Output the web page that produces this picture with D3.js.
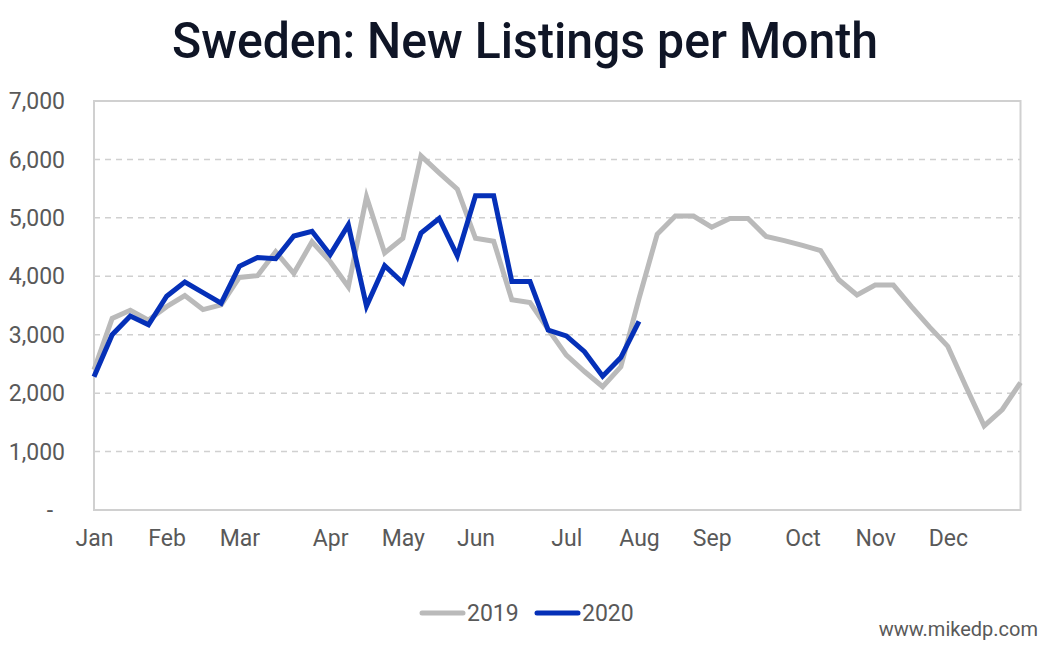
<!DOCTYPE html>
<html>
<head>
<meta charset="utf-8">
<script src="https://cdn.jsdelivr.net/npm/d3@7"></script>
<style>
  body { margin: 0; background: #fff; }
  svg { display: block; font-family: Roboto, "Noto Sans", sans-serif; }
</style>
</head>
<body>
<svg width="1044" height="647"></svg>
<script>
var months = ['Jan', 'Feb', 'Mar', 'Apr', 'May', 'Jun', 'Jul', 'Aug', 'Sep', 'Oct', 'Nov', 'Dec'];
// week index where each month label sits
var monthWeek = [0, 4, 8, 13, 17, 21, 26, 30, 34, 39, 43, 47];

var yTicks = [0, 1000, 2000, 3000, 4000, 5000, 6000, 7000];

var listings2019 = [2400, 3280, 3420, 3250, 3480, 3670, 3430, 3510, 3980, 4010,
  4420, 4050, 4590, 4250, 3820, 5360, 4400, 4650, 6060, 5770,
  5490, 4650, 4600, 3600, 3550, 3090, 2650, 2370, 2110, 2450,
  3620, 4720, 5030, 5030, 4840, 4990, 4990, 4680, 4610, 4530,
  4440, 3940, 3680, 3850, 3850, 3480, 3130, 2800, 2110, 1440,
  1720, 2180];

var listings2020 = [2280, 3000, 3320, 3170, 3660, 3900, 3720, 3540, 4170, 4320,
  4300, 4690, 4770, 4370, 4880, 3490, 4180, 3890, 4740, 4990,
  4350, 5380, 5380, 3910, 3910, 3080, 2980, 2710, 2290, 2610,
  3230];

var svg = d3.select('svg');

var plotLeft = 94, plotRight = 1020.5, plotTop = 101, plotBottom = 510;

var x = d3.scaleLinear().domain([0, listings2019.length - 1]).range([plotLeft, plotRight]);
var y = d3.scaleLinear().domain([0, 7000]).range([plotBottom, plotTop]);

// title
var title = svg.append('text')
  .attr('x', 525)
  .attr('y', 58)
  .attr('text-anchor', 'middle')
  .attr('fill', '#0f1526')
  .style('font-size', '50px')
  .style('font-weight', 500)
  .text('Sweden: New Listings per Month');
if (title.node().getComputedTextLength() > 706) {
  title.attr('textLength', 706).attr('lengthAdjust', 'spacingAndGlyphs');
}

// dashed gridlines
svg.append('g')
  .selectAll('line')
  .data(yTicks.filter(function(d) { return d > 0 && d < 7000; }))
  .enter()
  .append('line')
  .attr('x1', plotLeft)
  .attr('x2', plotRight)
  .attr('y1', function(d) { return y(d); })
  .attr('y2', function(d) { return y(d); })
  .attr('stroke', '#d0d0d0')
  .attr('stroke-width', 1.5)
  .attr('stroke-dasharray', '6,5');

// plot border
svg.append('rect')
  .attr('x', plotLeft)
  .attr('y', plotTop)
  .attr('width', plotRight - plotLeft)
  .attr('height', plotBottom - plotTop)
  .attr('fill', 'none')
  .attr('stroke', '#d0d0d0')
  .attr('stroke-width', 2);

// y axis labels
var yAxis = d3.axisLeft(y)
  .tickValues(yTicks)
  .tickSize(0)
  .tickPadding(29)
  .tickFormat(function(d) { return d === 0 ? '-' : d3.format(',')(d); });

var gy = svg.append('g')
  .attr('transform', 'translate(' + plotLeft + ',0)')
  .call(yAxis);
gy.select('.domain').remove();
gy.selectAll('text')
  .style('font-family', 'Roboto, sans-serif')
  .style('font-size', '23px')
  .attr('fill', '#595959')
  .attr('dy', '0.33em')
  .attr('dx', function(d) { return d === 0 ? -12 : 0; });

// x axis month labels
var xAxis = d3.axisBottom(x)
  .tickValues(monthWeek)
  .tickSize(0)
  .tickPadding(20)
  .tickFormat(function(d, i) { return months[i]; });

var gx = svg.append('g')
  .attr('transform', 'translate(0,' + plotBottom + ')')
  .call(xAxis);
gx.select('.domain').remove();
gx.selectAll('text')
  .style('font-family', 'Roboto, sans-serif')
  .style('font-size', '23px')
  .attr('fill', '#595959');

// lines
var line = d3.line()
  .x(function(d, i) { return x(i); })
  .y(function(d) { return y(d); });

svg.append('path')
  .datum(listings2019)
  .attr('d', line)
  .attr('fill', 'none')
  .attr('stroke', '#bababa')
  .attr('stroke-width', 5)
  .attr('stroke-linejoin', 'miter');

svg.append('path')
  .datum(listings2020)
  .attr('d', line)
  .attr('fill', 'none')
  .attr('stroke', '#0530b8')
  .attr('stroke-width', 5)
  .attr('stroke-linejoin', 'miter');

// legend
var legend = [
  { name: '2019', color: '#bababa', x: 422 },
  { name: '2020', color: '#0530b8', x: 537 }
];
var lg = svg.append('g')
  .selectAll('g')
  .data(legend)
  .enter()
  .append('g')
  .attr('transform', function(d) { return 'translate(' + d.x + ',613)'; });
lg.append('line')
  .attr('x1', 0)
  .attr('x2', 41)
  .attr('stroke', function(d) { return d.color; })
  .attr('stroke-width', 5)
  .attr('stroke-linecap', 'round');
lg.append('text')
  .attr('x', 45)
  .attr('y', 8)
  .attr('fill', '#595959')
  .style('font-size', '23px')
  .text(function(d) { return d.name; });

// watermark
svg.append('text')
  .attr('x', 1038)
  .attr('y', 636)
  .attr('text-anchor', 'end')
  .attr('fill', '#595959')
  .style('font-size', '20px')
  .text('www.mikedp.com');
</script>
</body>
</html>
